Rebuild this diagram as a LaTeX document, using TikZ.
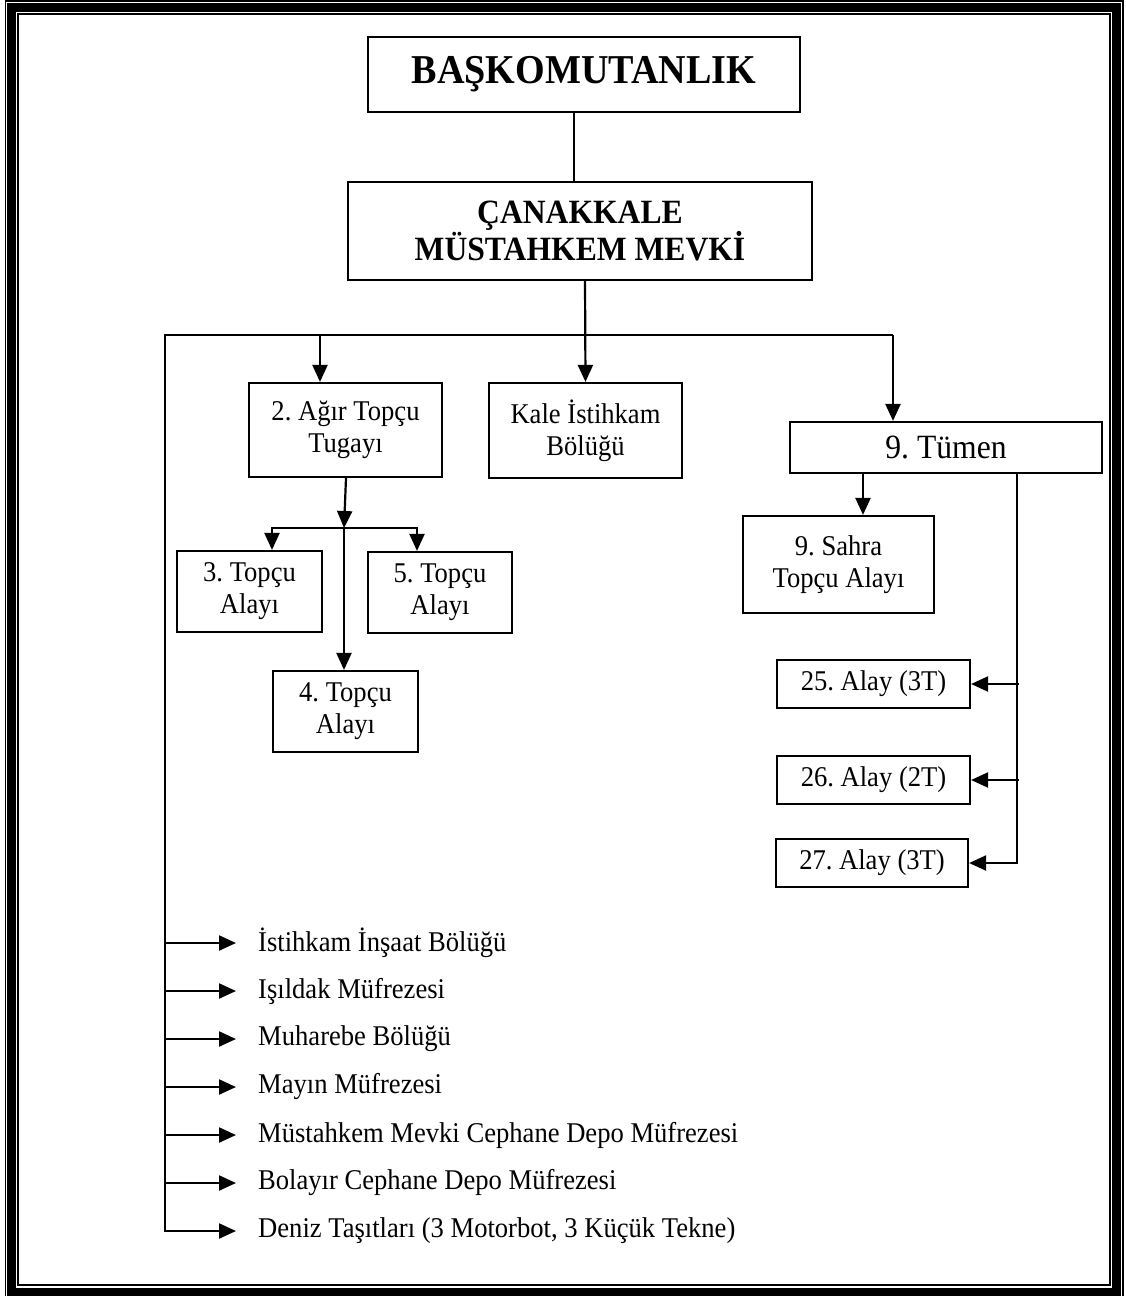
\documentclass[tikz,border=0pt]{standalone}
\usepackage{fontspec}
\setmainfont{Liberation Serif}[FakeStretch=0.93]
\usetikzlibrary{arrows.meta}
\frenchspacing

\begin{document}
\begin{tikzpicture}[x=1pt,y=-1pt]
	\tikzstyle{Unit} = [rectangle, draw=black, line width=2.2pt, align=center, inner sep=0pt, font=\fontsize{28.6}{32}\selectfont]
	\tikzstyle{Title} = [Unit, font=\bfseries\fontsize{34}{37}\selectfont]
	\tikzstyle{Item} = [anchor=west, inner sep=0pt, font=\fontsize{28.6}{32}\selectfont]
	\tikzstyle{line} = [line width=2.2pt]
	\tikzstyle{arrow} = [line width=2.2pt,-{Triangle[length=17pt,width=15pt]}]
	
	\useasboundingbox (0,0) rectangle (1125,1296);
	% page frame
	\draw [line width=1.5pt] (5.5,1) rectangle (1123,1298);
	\draw [line width=9pt] (11.5,7.5) rectangle (1116.5,1292);
	\draw [line width=2pt] (18,14) rectangle (1110,1284.5);
	
	\node (bas) [Title, minimum width=432, minimum height=75, font=\bfseries\fontsize{41}{44}\selectfont] at (584,74.5) {BAŞKOMUTANLIK};
	\node (cmm) [Title, minimum width=464, minimum height=98] at (580,231) {ÇANAKKALE\\MÜSTAHKEM MEVKİ};
	
	\node (agir) [Unit, minimum width=193, minimum height=94] at (345.5,430) {2. Ağır Topçu\\Tugayı};
	\node (kale) [Unit, minimum width=193, minimum height=95] at (585.5,430.5) {Kale İstihkam\\Bölüğü};
	\node (tumen) [Unit, minimum width=312, minimum height=51, font=\fontsize{34}{38}\selectfont] at (946,447.5) {9. Tümen};
	\node (sahra) [Unit, minimum width=191, minimum height=97] at (838.5,564.5) {9. Sahra\\Topçu Alayı};
	
	\node (t3) [Unit, minimum width=145, minimum height=81] at (249.5,591.5) {3. Topçu\\Alayı};
	\node (t5) [Unit, minimum width=144, minimum height=81] at (440,592.5) {5. Topçu\\Alayı};
	\node (t4) [Unit, minimum width=145, minimum height=81] at (345.5,711.5) {4. Topçu\\Alayı};
	
	\node (a25) [Unit, minimum width=193, minimum height=48] at (873.5,684) {25. Alay (3T)};
	\node (a26) [Unit, minimum width=193, minimum height=48] at (873.5,780) {26. Alay (2T)};
	\node (a27) [Unit, minimum width=192, minimum height=48] at (872,863) {27. Alay (3T)};
	
	\node (l1) [Item] at (258,943) {İstihkam İnşaat Bölüğü};
	\node (l2) [Item] at (258,991) {Işıldak Müfrezesi};
	\node (l3) [Item] at (258,1039) {Muharebe Bölüğü};
	\node (l4) [Item] at (258,1087) {Mayın Müfrezesi};
	\node (l5) [Item] at (258,1135) {Müstahkem Mevki Cephane Depo Müfrezesi};
	\node (l6) [Item] at (258,1183) {Bolayır Cephane Depo Müfrezesi};
	\node (l7) [Item] at (258,1231) {Deniz Taşıtları (3 Motorbot, 3 Küçük Tekne)};
	
	\coordinate (busL) at (164,335);
	\coordinate (busR) at (893,335);
	\coordinate (jn) at (344,528);
	\coordinate (tr) at ([xshift=71pt]tumen.south);
	
	% top level
	\draw [line] ([xshift=-10pt]bas.south) -- ([xshift=-10pt]bas.south |- cmm.north);
	\draw [arrow] ([xshift=5pt]cmm.south) -- (kale.north);
	\draw [line] (busL) -- (busR);
	\draw [arrow] ([xshift=-25.5pt]agir.north |- busL) -- ([xshift=-25.5pt]agir.north);
	\draw [arrow] (busR) -- (busR |- tumen.north);
	
	% artillery brigade
	\draw [arrow] ([xshift=0.5pt]agir.south) -- (jn);
	\draw [arrow] (jn) -| ([xshift=22.5pt]t3.north);
	\draw [arrow] (jn) -| ([xshift=-23pt]t5.north);
	\draw [arrow] (jn) -- (jn |- t4.north);
	
	% 9th division
	\draw [arrow] ([xshift=24.5pt]sahra.north |- tumen.south) -- ([xshift=24.5pt]sahra.north);
	\draw [arrow] (tr) |- (a27.east);
	\draw [arrow] ([xshift=2pt]tr |- a25.east) -- (a25.east);
	\draw [arrow] ([xshift=2pt]tr |- a26.east) -- (a26.east);
	
	% attached units
	\draw [arrow] ([xshift=1pt]busL) |- ([xshift=-22pt]l7.west);
	\draw [arrow] ([xshift=1pt]busL |- l1.west) -- ([xshift=-22pt]l1.west);
	\draw [arrow] ([xshift=1pt]busL |- l2.west) -- ([xshift=-22pt]l2.west);
	\draw [arrow] ([xshift=1pt]busL |- l3.west) -- ([xshift=-22pt]l3.west);
	\draw [arrow] ([xshift=1pt]busL |- l4.west) -- ([xshift=-22pt]l4.west);
	\draw [arrow] ([xshift=1pt]busL |- l5.west) -- ([xshift=-22pt]l5.west);
	\draw [arrow] ([xshift=1pt]busL |- l6.west) -- ([xshift=-22pt]l6.west);
\end{tikzpicture}
\end{document}
